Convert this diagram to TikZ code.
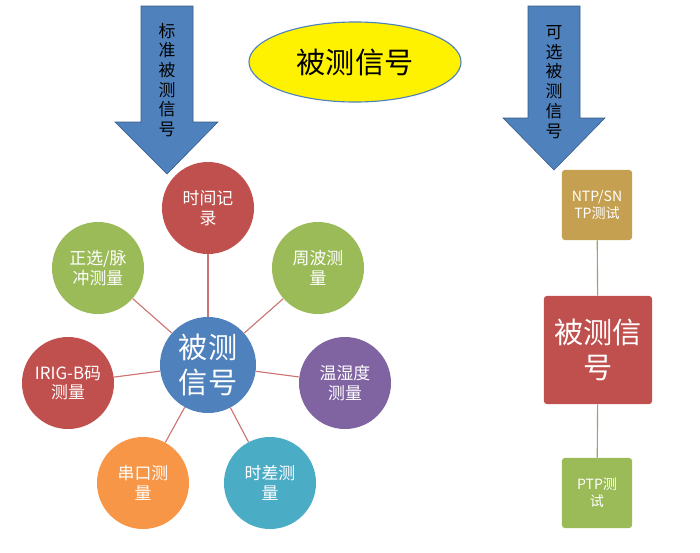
\documentclass[tikz,border=0pt]{standalone}
\usepackage{fontspec}
\setmainfont{Liberation Sans}
\newfontfamily\cjk{Noto Sans CJK SC}
\usetikzlibrary{shapes.geometric}
\definecolor{arrowblue}{RGB}{79,129,189}
\definecolor{ballred}{RGB}{192,80,77}
\definecolor{ballgreen}{RGB}{155,187,89}
\definecolor{ballpurple}{RGB}{128,100,162}
\definecolor{ballteal}{RGB}{75,172,198}
\definecolor{ballorange}{RGB}{247,150,70}
\definecolor{boxtan}{RGB}{196,160,80}
\tikzset{
  ball/.style={circle, minimum size=2.3cm, inner sep=0pt, text=white, align=center, font=\cjk\large},
  box/.style={rounded corners=2pt, minimum size=1.75cm, inner sep=0pt, text=white, align=center, font=\cjk},
  spoke/.style={draw=ballred!80, thick},
  link/.style={draw=ballgreen!70!gray, thick}
}
\begin{document}
\begin{tikzpicture}[x=0.025cm, y=-0.025cm]
  \useasboundingbox (0,0) rectangle (700,553);
  % arrows
  \fill[arrowblue, draw=arrowblue!70!black] (141,6) -- (193,6) -- (193,122) -- (218,122) -- (167,174) -- (115,122) -- (141,122) -- cycle;
  \node[font=\cjk\large, align=center, inner sep=0pt] (la) at (167,80) {标\\准\\被\\测\\信\\号};
  \fill[arrowblue, draw=arrowblue!70!black] (528,6) -- (580,6) -- (580,118) -- (605,118) -- (554,170) -- (503,118) -- (528,118) -- cycle;
  \node[font=\cjk\large, align=center, inner sep=0pt] (ra) at (554,82) {可\\选\\被\\测\\信\\号};
  % title
  \node[ellipse, draw=arrowblue, thick, fill=yellow, minimum width=5.3cm, minimum height=2cm, font=\cjk\huge] (title) at (355,62) {被测信号};
  % star
  \node[ball, fill=arrowblue, minimum size=2.4cm, font=\cjk\huge] (c) at (208,365) {被测\\信号};
  \node[ball, fill=ballred] (s1) at (208,208) {时间记\\录};
  \node[ball, fill=ballgreen] (s2) at (318,268) {周波测\\量};
  \node[ball, fill=ballpurple] (s3) at (345,383) {温湿度\\测量};
  \node[ball, fill=ballteal] (s4) at (270,483) {时差测\\量};
  \node[ball, fill=ballorange] (s5) at (143,483) {串口测\\量};
  \node[ball, fill=ballred] (s6) at (68,383) {IRIG-B码\\测量};
  \node[ball, fill=ballgreen] (s7) at (98,268) {正选/脉\\冲测量};
  \foreach \s in {s1,s2,s3,s4,s5,s6,s7}
    \draw[spoke] (c) -- (\s);
  % right column
  \node[box, fill=boxtan] (ntp) at (597,205) {NTP/SN\\TP测试};
  \node[box, fill=ballred, minimum size=2.7cm, font=\cjk\huge] (sig) at (598,350) {被测信\\号};
  \node[box, fill=ballgreen] (ptp) at (597,493) {PTP测\\试};
  \draw[link] (ntp) -- (sig);
  \draw[link] (sig) -- (ptp);
\end{tikzpicture}
\end{document}
